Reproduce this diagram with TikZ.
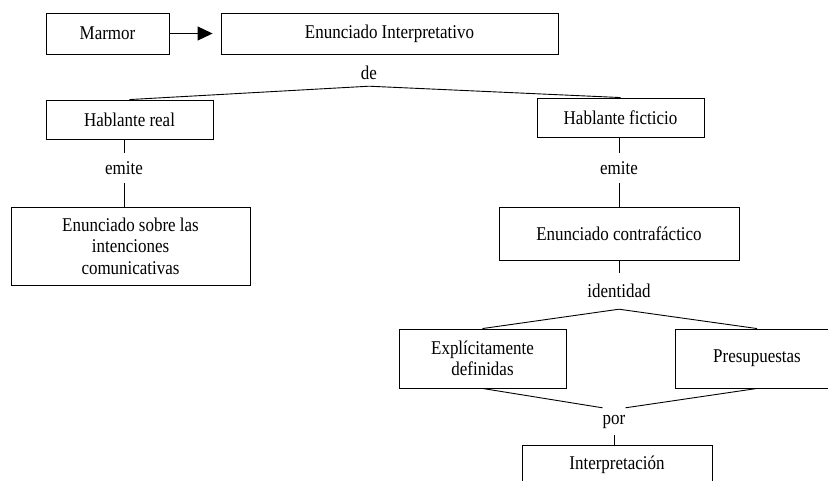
\documentclass[tikz,border=0pt]{standalone}
\usepackage{fontspec}
\setmainfont{Liberation Serif}[FakeStretch=0.87]
\usetikzlibrary{arrows.meta}

\tikzset{
    box/.style={draw, line width=0.9pt, inner sep=0pt, align=center},
    word/.style={inner sep=0pt, minimum width=0pt},
    link/.style={line width=0.9pt}
}

\begin{document}
\begin{tikzpicture}[x=1pt, y=-1pt, font=\fontsize{19.5}{21.5}\selectfont]

    \clip (0,0) rectangle (828,480);

    % top row
    \node[box, minimum width=123pt, minimum height=41pt] (marmor) at (107.5,33.5) {Marmor};
    \node[box, minimum width=337pt, minimum height=41pt] (interp) at (389.5,33.5) {Enunciado Interpretativo};
    \draw[link, -{Triangle[length=15pt, width=14pt]}, shorten >=8pt] (marmor) -- (interp);

    \node[word, minimum height=26pt] (de) at (369,73) {de};

    % left branch
    \node[box, minimum width=167pt, minimum height=39pt] (hreal) at (129.5,119.5) {Hablante real};
    \node[word, minimum height=30pt] (emiteL) at (124,168) {emite};
    \node[box, minimum width=239pt, minimum height=78pt] (sobre) at (130.5,246)
        {Enunciado sobre las\\intenciones\\comunicativas};

    % right branch
    \node[box, minimum width=167pt, minimum height=39pt] (hfict) at (620.5,117.5) {Hablante ficticio};
    \node[word, minimum height=30pt] (emiteR) at (619,168) {emite};
    \node[box, minimum width=240pt, minimum height=53pt] (contra) at (619,233.5) {Enunciado contrafáctico};
    \node[word, minimum height=36pt] (ident) at (619,291) {identidad};

    \node[box, minimum width=167pt, minimum height=59pt] (explic) at (482.5,358.5) {Explícitamente\\definidas};
    \node[box, minimum width=164pt, minimum height=59pt] (presup) at (757,358.5) {Presupuestas};
    \node[word, minimum height=27pt] (por) at (614,421.5) {por};
    \node[box, minimum width=190pt, minimum height=40pt] (interpr) at (617,465) {Interpretación};

    % connectors
    \draw[link] (hreal.north) -- (de.south) -- (hfict.north);
    \draw[link] (hreal.south -| emiteL) -- (emiteL.north);
    \draw[link] (emiteL.south) -- (sobre.north -| emiteL);
    \draw[link] (hfict.south -| emiteR) -- (emiteR.north);
    \draw[link] (emiteR.south) -- (contra.north -| emiteR);
    \draw[link] (contra.south -| ident) -- (ident.north);
    \draw[link] (explic.north) -- (ident.south) -- (presup.north);
    \draw[link] (explic.south) -- (por.north west);
    \draw[link] (presup.south) -- (por.north east);
    \draw[link] (por.south) -- (interpr.north -| por);
\end{tikzpicture}
\end{document}
